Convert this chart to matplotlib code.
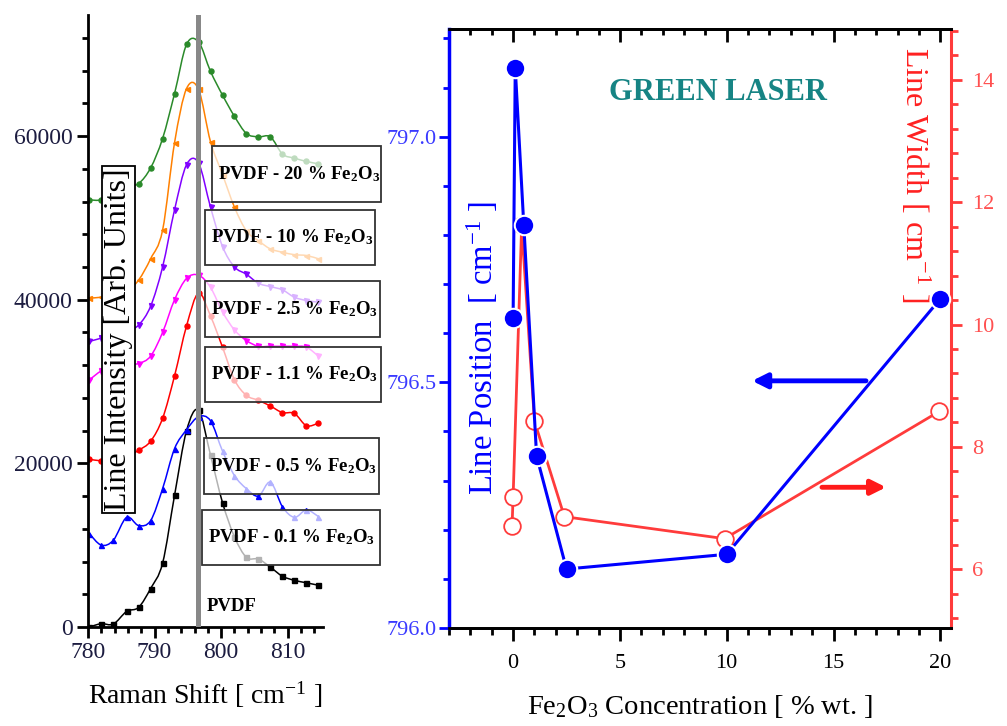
import matplotlib
matplotlib.use("Agg")
import matplotlib.pyplot as plt
from matplotlib.path import Path
from matplotlib.patches import PathPatch, Rectangle
from matplotlib.ticker import MultipleLocator, FormatStrFormatter

plt.rcParams["font.family"] = "Liberation Serif"
plt.rcParams["mathtext.fontset"] = "custom"
plt.rcParams["mathtext.rm"] = "Liberation Serif"
plt.rcParams["mathtext.it"] = "Liberation Serif:italic"
plt.rcParams["mathtext.bf"] = "Liberation Serif:bold"

# ── data: Raman spectra (left panel) ─────────────────────────────────────
raman_shift = [780.2, 782.0, 783.8, 785.8, 787.6, 789.4, 791.2, 793.0, 794.8, 796.6,
               798.4, 800.2, 802.0, 803.8, 805.6, 807.4, 809.2, 811.0, 812.8, 814.6]
int_pvdf = [0, 400, 350, 1900, 2400, 4700, 7800, 16100, 24000, 26500,
            21000, 15200, 11000, 8500, 8300, 7300, 6200, 5700, 5400, 5100]
int_01 = [11400, 10000, 10600, 13400, 12400, 13000, 16900, 21800, 24100, 25700,
          25200, 21500, 18500, 16900, 16000, 17700, 14700, 13400, 14300, 13500]
int_05 = [20500, 20300, 20300, 20800, 21600, 22700, 25500, 30700, 36800, 40800,
          38000, 34200, 30200, 28300, 27700, 27000, 26200, 26100, 24600, 24900]
int_11 = [30200, 31300, 31800, 32100, 32200, 33100, 36000, 40000, 42600, 43000,
          41500, 38500, 36300, 35000, 34300, 34300, 34300, 34300, 34200, 33100]
int_25 = [34900, 35300, 35700, 36100, 36900, 39200, 44000, 51000, 56500, 56700,
          51300, 46500, 44000, 43100, 42000, 41600, 41200, 40300, 39900, 39700]
int_10 = [40200, 40300, 40600, 41000, 42400, 45000, 48500, 59200, 65800, 65700,
          59300, 55300, 51300, 48400, 47200, 46200, 45800, 45500, 45400, 45000]
int_20 = [52200, 52200, 53000, 53800, 54200, 56100, 59700, 65200, 71200, 71500,
          67900, 65000, 62400, 60300, 59900, 59900, 57800, 57300, 56900, 56600]

spectra = [int_pvdf, int_01, int_05, int_11, int_25, int_10, int_20]
spec_labels = ["PVDF",
               r"PVDF - 0.1 % Fe$_\mathbf{2}$O$_\mathbf{3}$",
               r"PVDF - 0.5 % Fe$_\mathbf{2}$O$_\mathbf{3}$",
               r"PVDF - 1.1 % Fe$_\mathbf{2}$O$_\mathbf{3}$",
               r"PVDF - 2.5 % Fe$_\mathbf{2}$O$_\mathbf{3}$",
               r"PVDF - 10 % Fe$_\mathbf{2}$O$_\mathbf{3}$",
               r"PVDF - 20 % Fe$_\mathbf{2}$O$_\mathbf{3}$"]

# ── data: line position / width vs concentration (right panel) ───────────
conc_pos = [0.0, 0.1, 0.5, 1.1, 2.5, 10.0, 20.0]
line_pos = [796.63, 797.14, 796.82, 796.35, 796.12, 796.15, 796.67]
conc_width = [-0.05, 0.0, 0.4, 1.0, 2.4, 9.9, 19.95]
line_width = [6.70, 7.18, 11.62, 8.42, 6.86, 6.50, 8.58]

# ── styles ───────────────────────────────────────────────────────────────
SPEC_COLORS = ["black", "#0000ff", "#ff0000", "#ff00ff", "#8000ff", "#ff8000", "#2a8a2a"]
SPEC_MARKERS = ["s", "^", "o", "v", "v", "<", "o"]
TICKC = "#1c1c40"
BLUE = "#0000ff"
RED = "#ff3b3b"
TEAL = "#168484"

# boxes for the curve labels, axes fraction (x0, y0, w, h); None = no box
LABEL_BOXES = [None,
               (0.485, 0.101, 0.757, 0.090),
               (0.494, 0.217, 0.745, 0.092),
               (0.498, 0.368, 0.749, 0.090),
               (0.498, 0.474, 0.745, 0.092),
               (0.498, 0.592, 0.723, 0.090),
               (0.528, 0.694, 0.719, 0.092)]


def smooth_path(xs, ys):
    # Catmull-Rom spline through the points, drawn as cubic Bezier segments
    pts = list(zip(xs, ys))
    verts = [pts[0]]
    codes = [Path.MOVETO]
    n = len(pts)
    for i in range(n - 1):
        p0 = pts[max(i - 1, 0)]
        p1 = pts[i]
        p2 = pts[i + 1]
        p3 = pts[min(i + 2, n - 1)]
        c1 = (p1[0] + (p2[0] - p0[0]) / 6, p1[1] + (p2[1] - p0[1]) / 6)
        c2 = (p2[0] - (p3[0] - p1[0]) / 6, p2[1] - (p3[1] - p1[1]) / 6)
        verts += [c1, c2, p2]
        codes += [Path.CURVE4] * 3
    return Path(verts, codes)


fig = plt.figure(figsize=(10.07, 7.26), dpi=100)

# ── left panel ───────────────────────────────────────────────────────────
axL = fig.add_axes([0.0874, 0.1364, 0.2334, 0.843])
for ys, col, mk in zip(spectra, SPEC_COLORS, SPEC_MARKERS):
    axL.add_patch(PathPatch(smooth_path(raman_shift, ys), facecolor="none",
                            edgecolor=col, lw=1.1, zorder=2))
    axL.plot(raman_shift, ys, ls="none", marker=mk, ms=3.6, color=col, zorder=2)

axL.axvline(796.55, color="#888888", lw=3.6, zorder=3)

axL.set_xlim(780, 815.3)
axL.set_ylim(0, 74800)
axL.xaxis.set_major_locator(MultipleLocator(10))
axL.xaxis.set_minor_locator(MultipleLocator(2))
axL.yaxis.set_major_locator(MultipleLocator(20000))
axL.yaxis.set_minor_locator(MultipleLocator(4000))
for side in ("top", "right"):
    axL.spines[side].set_visible(False)
for side in ("left", "bottom"):
    axL.spines[side].set_linewidth(2)
axL.tick_params(which="both", direction="out", width=2, labelsize=17,
                labelcolor=TICKC, pad=3)
axL.tick_params(which="major", length=8)
axL.tick_params(which="minor", length=4.5)
axL.set_xlabel(r"Raman Shift [ cm$^{-1}$ ]", fontsize=20, labelpad=12)

axL.text(0.129, 0.470, "Line Intensity [Arb. Units]", transform=axL.transAxes,
         rotation=90, ha="center", va="center", fontsize=23, zorder=6,
         bbox=dict(boxstyle="square,pad=0.06", fc="white", ec="black", lw=1.3))

for lab, box in zip(spec_labels, LABEL_BOXES):
    if box is None:
        axL.text(0.506, 0.033, lab, transform=axL.transAxes, ha="left",
                 va="center", fontsize=13.5, fontweight="bold", zorder=6)
        continue
    x0, y0, w, h = box
    axL.add_patch(Rectangle((x0, y0), w, h, transform=axL.transAxes,
                            fc=(1, 1, 1, 0.7), ec="#333333", lw=1.3,
                            clip_on=False, zorder=5))
    axL.text(x0 + 0.025, y0 + h / 2, lab, transform=axL.transAxes,
             ha="left", va="center", fontsize=13.5, fontweight="bold",
             zorder=6, clip_on=False)

# ── right panel ──────────────────────────────────────────────────────────
axR = fig.add_axes([0.4459, 0.135, 0.4985, 0.825])
axW = axR.twinx()
axR.set_zorder(axW.get_zorder() + 1)
axR.patch.set_visible(False)

axW.plot(conc_width, line_width, color=RED, lw=2, marker="o", ms=12,
         mfc="white", mec=RED, mew=1.3, zorder=3)
axR.plot(conc_pos, line_pos, color=BLUE, lw=2.2, marker="o", ms=14,
         mfc=BLUE, mec="white", mew=1.5, zorder=3)

axR.set_xlim(-3, 20.5)
axR.set_ylim(796.0, 797.219)
axW.set_ylim(5.04, 14.83)

axR.xaxis.set_major_locator(MultipleLocator(5))
axR.xaxis.set_minor_locator(MultipleLocator(1))
axR.yaxis.set_major_locator(MultipleLocator(0.5))
axR.yaxis.set_minor_locator(MultipleLocator(0.1))
axR.yaxis.set_major_formatter(FormatStrFormatter("%.1f"))
axW.yaxis.set_major_locator(MultipleLocator(2))
axW.yaxis.set_minor_locator(MultipleLocator(0.4))

axR.spines["left"].set_color(BLUE)
axR.spines["left"].set_linewidth(2.5)
axR.spines["right"].set_visible(False)
axW.spines["left"].set_visible(False)
axW.spines["right"].set_color(RED)
axW.spines["right"].set_linewidth(2.2)
for a in (axR, axW):
    a.spines["top"].set_linewidth(2)
    a.spines["bottom"].set_linewidth(2)

axR.tick_params(axis="x", which="both", direction="out", width=2,
                labelsize=16, labelcolor="black", pad=10)
axR.tick_params(axis="x", which="major", length=9)
axR.tick_params(axis="x", which="minor", length=5)
axR.tick_params(axis="y", which="both", direction="out", width=2,
                color=BLUE, labelcolor="#3a3aff", labelsize=16, pad=2)
axR.tick_params(axis="y", which="major", length=7)
axR.tick_params(axis="y", which="minor", length=4.5)
axW.tick_params(axis="y", which="both", direction="out", width=2,
                color=RED, labelcolor="#ff5050", labelsize=16, pad=7)
axW.tick_params(axis="y", which="major", length=8)
axW.tick_params(axis="y", which="minor", length=5)

top = axR.secondary_xaxis("top")
top.xaxis.set_major_locator(MultipleLocator(5))
top.xaxis.set_minor_locator(MultipleLocator(1))
top.tick_params(which="both", direction="in", width=2, labeltop=False)
top.tick_params(which="major", length=9)
top.tick_params(which="minor", length=4.5)
top.spines["top"].set_linewidth(2)

axR.set_xlabel(r"Fe$_2$O$_3$ Concentration [ % wt. ]", fontsize=20.5, labelpad=14)
axR.text(0.066, 0.467, r"Line Position  [ cm$^{-1}$ ]", transform=axR.transAxes,
         rotation=90, ha="center", va="center", fontsize=23.5, color=BLUE)
axW.text(0.928, 0.756, r"Line Width [ cm$^{-1}$ ]", transform=axW.transAxes,
         rotation=-90, ha="center", va="center", fontsize=23, color="#ff2020")
axR.text(9.6, 797.09, "GREEN LASER", ha="center", va="center", fontsize=22,
         fontweight="bold", color=TEAL)

axR.annotate("", xy=(11.19, 796.503), xytext=(16.52, 796.503),
             arrowprops=dict(arrowstyle="-|>", color=BLUE, lw=3.5,
                             mutation_scale=22, shrinkA=0, shrinkB=0))
axW.annotate("", xy=(17.46, 7.34), xytext=(14.46, 7.34),
             arrowprops=dict(arrowstyle="-|>", color="#ff1a1a", lw=3.5,
                             mutation_scale=22, shrinkA=0, shrinkB=0))

fig.savefig("out.png", dpi=100, facecolor="white")
